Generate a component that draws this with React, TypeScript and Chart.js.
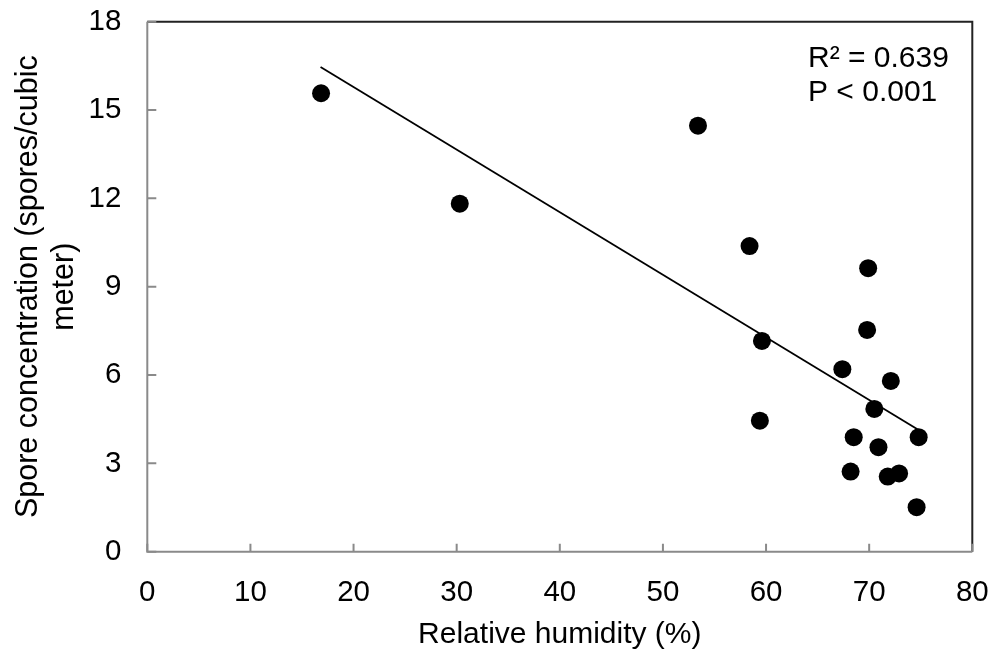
import React, { useEffect, useRef } from "react";
import { Chart, registerables } from "chart.js";

Chart.register(...registerables);

const humidity = [16.85, 30.3, 53.4, 58.4, 69.9, 69.8, 59.6, 67.4, 72.1, 70.5, 59.4, 74.8, 68.5, 70.9, 68.2, 71.8, 72.9, 74.6];
const spores = [15.57, 11.82, 14.47, 10.38, 9.63, 7.53, 7.16, 6.2, 5.8, 4.85, 4.45, 3.89, 3.89, 3.55, 2.72, 2.55, 2.66, 1.51];
const trendX = [16.8, 74.8];
const trendY = [16.46, 4.13];
const xTicks = [0, 10, 20, 30, 40, 50, 60, 70, 80];
const yTicks = [0, 3, 6, 9, 12, 15, 18];
const statsLines = ["R\u00B2 = 0.639", "P < 0.001"];
const xTitle = "Relative humidity (%)";
const yTitle = ["Spore concentration (spores/cubic", "meter)"];

const FONT = "'Liberation Sans', Arial, sans-serif";

const framePlugin = {
  id: "frame",
  afterDraw(chart: any) {
    const { ctx, chartArea } = chart;
    const { left, right, top, bottom } = chartArea;
    const xs = chart.scales.x;
    const ys = chart.scales.y;
    ctx.save();
    ctx.strokeStyle = "#222";
    ctx.lineWidth = 2;
    ctx.beginPath();
    ctx.moveTo(left, top);
    ctx.lineTo(right, top);
    ctx.lineTo(right, bottom);
    ctx.stroke();
    ctx.strokeStyle = "#8a8a8a";
    ctx.lineWidth = 2;
    ctx.beginPath();
    ctx.moveTo(left, top);
    ctx.lineTo(left, bottom);
    ctx.lineTo(right, bottom);
    ctx.stroke();
    ctx.beginPath();
    yTicks.forEach((v) => {
      const y = ys.getPixelForValue(v);
      ctx.moveTo(left, y);
      ctx.lineTo(left + 9, y);
    });
    xTicks.forEach((v) => {
      const x = xs.getPixelForValue(v);
      ctx.moveTo(x, bottom);
      ctx.lineTo(x, bottom - 8);
    });
    ctx.stroke();
    ctx.fillStyle = "#000";
    ctx.font = `30px ${FONT}`;
    ctx.textAlign = "left";
    ctx.textBaseline = "alphabetic";
    statsLines.forEach((t, i) => {
      ctx.fillText(t, 808, 66.5 + i * 34);
    });
    ctx.restore();
  },
};

export default function App() {
  const ref = useRef<HTMLCanvasElement>(null);
  useEffect(() => {
    if (!ref.current) return;
    const chart = new Chart(ref.current, {
      type: "scatter",
      data: {
        datasets: [
          {
            label: "Samples",
            data: humidity.map((x, i) => ({ x, y: spores[i] })),
            pointRadius: 9,
            pointBackgroundColor: "#000",
            pointBorderColor: "#000",
            pointBorderWidth: 0,
            showLine: false,
          },
          {
            label: "Trend",
            data: trendX.map((x, i) => ({ x, y: trendY[i] })),
            showLine: true,
            borderColor: "#000",
            borderWidth: 1.8,
            pointRadius: 0,
            fill: false,
          },
        ],
      },
      options: {
        animation: false,
        responsive: true,
        maintainAspectRatio: false,
        layout: { padding: { top: 21.7, right: 22.7, left: 0, bottom: 0 } },
        plugins: {
          legend: { display: false },
          tooltip: { enabled: false },
        },
        scales: {
          x: {
            type: "linear",
            min: 0,
            max: 80,
            afterFit: (s: any) => {
              s.height = 106.3;
              s.paddingLeft = 0;
              s.paddingRight = 0;
            },
            afterBuildTicks: (s: any) => {
              s.ticks = xTicks.map((v) => ({ value: v }));
            },
            grid: { display: false, drawTicks: false },
            border: { display: false },
            ticks: {
              padding: 23,
              color: "#000",
              font: { family: FONT, size: 29.5 },
              maxRotation: 0,
            },
            title: {
              display: true,
              text: xTitle,
              color: "#000",
              font: { family: FONT, size: 30 },
              padding: { top: 0, bottom: 5 },
            },
          },
          y: {
            type: "linear",
            min: 0,
            max: 18,
            afterFit: (s: any) => {
              s.width = 147.3;
              s.paddingTop = 0;
              s.paddingBottom = 0;
            },
            afterBuildTicks: (s: any) => {
              s.ticks = yTicks.map((v) => ({ value: v }));
            },
            grid: { display: false, drawTicks: false },
            border: { display: false },
            ticks: {
              padding: 26,
              color: "#000",
              font: { family: FONT, size: 29.5 },
            },
            title: {
              display: true,
              text: yTitle,
              color: "#000",
              font: { family: FONT, size: 30.5 },
              padding: { top: 10, bottom: 0 },
            },
          },
        },
      },
      plugins: [framePlugin],
    });
    return () => chart.destroy();
  }, []);
  return (
    <div style={{ position: "fixed", left: 0, top: 0, width: 995, height: 658, background: "#fff" }}>
      <canvas ref={ref} />
    </div>
  );
}
